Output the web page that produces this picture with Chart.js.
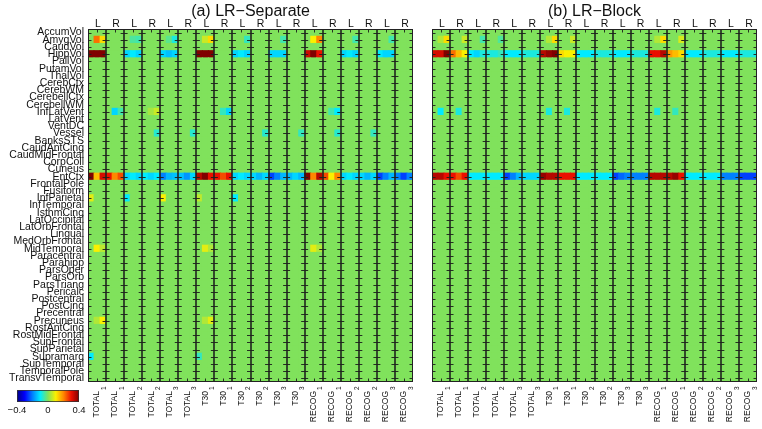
<!DOCTYPE html>
<html><head><meta charset="utf-8">
<script src="https://cdn.jsdelivr.net/npm/chart.js@4/dist/chart.umd.min.js"></script>
<style>
html,body{margin:0;padding:0;background:#fff;}
#wrap{position:relative;width:762px;height:429px;overflow:hidden;}
canvas{position:absolute;left:0;top:0;}
</style></head><body>
<div id="wrap"><canvas id="ca" width="762" height="429"></canvas><canvas id="cb" width="762" height="429"></canvas></div>
<script>
// ---------------- data ----------------
const regions = ['AccumVol','AmygVol','CaudVol','HippVol','PallVol','PutamVol','ThalVol','CerebCtx','CerebWM','CerebellCtx','CerebellWM','InfLatVent','LatVent','VentDC','Vessel','BanksSTS','CaudAntCing','CaudMidFrontal','CorpColl','Cuneus','EntCtx','FrontalPole','Fusiform','InfParietal','InfTemporal','IsthmCing','LatOccipital','LatOrbFrontal','Lingual','MedOrbFrontal','MidTemporal','Paracentral','Parahipp','ParsOper','ParsOrb','ParsTriang','Pericalc','Postcentral','PostCing','Precentral','Precuneus','RostAntCing','RostMidFrontal','SupFrontal','SupParietal','Supramarg','SupTemporal','TemporalPole','TransvTemporal'];
const sideLabels = ['L','R','L','R','L','R','L','R','L','R','L','R','L','R','L','R','L','R'];
const scoreLabels = ['TOTAL','TOTAL','TOTAL','TOTAL','TOTAL','TOTAL','T30','T30','T30','T30','T30','T30','RECOG','RECOG','RECOG','RECOG','RECOG','RECOG'];
const scoreIndex = ['1','1','2','2','3','3','1','1','2','2','3','3','1','1','2','2','3','3'];
const panelTitles = ['(a) LR\u2212Separate','(b) LR\u2212Block'];
const colorbarTicks = [-0.4, 0, 0.4];
const SUB = 3; // sub-columns per column
// non-zero cells: [region, column (1-18), values of the sub-columns]
const separateCells = [
  ['AmygVol',1,[0,0.22,0.12]],['AmygVol',3,[0,-0.04,-0.05]],['AmygVol',5,[0,-0.03,-0.08]],['AmygVol',7,[0,0.06,0.12]],['AmygVol',9,[0,0,-0.06]],['AmygVol',11,[0,0,-0.05]],['AmygVol',13,[0,0.1,0.2]],['AmygVol',15,[0,0,-0.05]],['AmygVol',17,[0,0,-0.05]],
  ['HippVol',1,[0.4,0.4,0.4]],['HippVol',3,[-0.12,-0.1,-0.12]],['HippVol',5,[-0.12,-0.14,-0.12]],['HippVol',7,[0.4,0.4,0.4]],['HippVol',9,[-0.12,-0.1,-0.12]],['HippVol',11,[-0.12,-0.12,-0.12]],['HippVol',13,[0.33,0.4,0.3]],['HippVol',15,[-0.12,-0.1,-0.12]],['HippVol',17,[-0.1,-0.12,-0.12]],
  ['InfLatVent',2,[0,-0.12,-0.05]],['InfLatVent',4,[0,0.03,0.06]],['InfLatVent',8,[0,-0.06,-0.12]],['InfLatVent',14,[0,-0.05,-0.1]],
  ['Vessel',4,[0,0,-0.07]],['Vessel',6,[0,0,-0.07]],['Vessel',10,[0,0,-0.07]],['Vessel',12,[0,0,-0.06]],['Vessel',14,[0,0,-0.07]],['Vessel',16,[0,0,-0.06]],
  ['EntCtx',1,[0.4,0.15,0.32]],['EntCtx',2,[0.3,0.2,0.25]],['EntCtx',3,[-0.12,-0.1,-0.12]],['EntCtx',4,[-0.1,-0.12,-0.1]],['EntCtx',5,[-0.2,-0.15,-0.14]],['EntCtx',6,[-0.14,-0.18,-0.12]],
  ['EntCtx',7,[0.35,0.4,0.3]],['EntCtx',8,[0.3,0.25,0.3]],['EntCtx',9,[-0.12,-0.1,-0.12]],['EntCtx',10,[-0.12,-0.15,-0.12]],['EntCtx',11,[-0.25,-0.2,-0.15]],['EntCtx',12,[-0.15,-0.12,-0.15]],
  ['EntCtx',13,[0.4,0.2,0.35]],['EntCtx',14,[0.25,0.1,0.2]],['EntCtx',15,[-0.12,-0.1,-0.12]],['EntCtx',16,[-0.12,-0.15,-0.12]],['EntCtx',17,[-0.25,-0.2,-0.15]],['EntCtx',18,[-0.2,-0.25,-0.2]],
  ['InfParietal',1,[0.08,0,0]],['InfParietal',3,[-0.1,0,0]],['InfParietal',5,[0.1,0,0]],['InfParietal',7,[0.05,0,0]],['InfParietal',9,[-0.1,0,0]],
  ['MidTemporal',1,[0,0.1,0.05]],['MidTemporal',7,[0,0.08,0.04]],['MidTemporal',13,[0,0.08,0.04]],
  ['Precuneus',1,[0,0.04,0.1]],['Precuneus',7,[0,0.04,0.08]],
  ['Supramarg',1,[-0.1,0,0]],['Supramarg',7,[-0.06,0,0]]
];
const blockCells = [
  ['AmygVol',1,[0,0.04,0.12]],['AmygVol',2,[0,0,0.06]],['AmygVol',3,[0,0,-0.05]],['AmygVol',4,[0,0,-0.04]],['AmygVol',7,[0,0.04,0.12]],['AmygVol',8,[0,0,0.06]],['AmygVol',13,[0,0.04,0.12]],['AmygVol',14,[0,0,0.07]],
  ['HippVol',1,[0.32,0.32,0.4]],['HippVol',2,[0.22,0.15,0.1]],['HippVol',3,[-0.1,-0.12,-0.08]],['HippVol',4,[-0.08,-0.08,-0.06]],['HippVol',5,[-0.1,-0.1,-0.1]],['HippVol',6,[-0.08,-0.08,-0.08]],
  ['HippVol',7,[0.35,0.38,0.4]],['HippVol',8,[0.12,0.1,0.1]],['HippVol',9,[-0.1,-0.1,-0.1]],['HippVol',10,[-0.08,-0.08,-0.08]],['HippVol',11,[-0.1,-0.1,-0.1]],['HippVol',12,[-0.08,-0.08,-0.08]],
  ['HippVol',13,[0.3,0.3,0.35]],['HippVol',14,[0.18,0.15,0.12]],['HippVol',15,[-0.1,-0.1,-0.1]],['HippVol',16,[-0.08,-0.08,-0.08]],['HippVol',17,[-0.1,-0.1,-0.1]],['HippVol',18,[-0.08,-0.08,-0.08]],
  ['InfLatVent',1,[0,-0.1,0]],['InfLatVent',2,[0,-0.08,0]],['InfLatVent',7,[0,-0.08,0]],['InfLatVent',8,[0,-0.08,0]],['InfLatVent',13,[0,-0.08,0]],['InfLatVent',14,[0,-0.06,0]],
  ['EntCtx',1,[0.35,0.35,0.3]],['EntCtx',2,[0.3,0.25,0.3]],['EntCtx',3,[-0.1,-0.1,-0.1]],['EntCtx',4,[-0.1,-0.1,-0.1]],['EntCtx',5,[-0.25,-0.2,-0.15]],['EntCtx',6,[-0.12,-0.12,-0.12]],
  ['EntCtx',7,[0.38,0.35,0.35]],['EntCtx',8,[0.3,0.3,0.3]],['EntCtx',9,[-0.1,-0.1,-0.1]],['EntCtx',10,[-0.1,-0.1,-0.1]],['EntCtx',11,[-0.25,-0.22,-0.2]],['EntCtx',12,[-0.2,-0.2,-0.2]],
  ['EntCtx',13,[0.35,0.35,0.35]],['EntCtx',14,[0.35,0.38,0.3]],['EntCtx',15,[-0.1,-0.1,-0.1]],['EntCtx',16,[-0.1,-0.1,-0.1]],['EntCtx',17,[-0.2,-0.2,-0.2]],['EntCtx',18,[-0.25,-0.25,-0.25]]
];

// ---------------- colour map ----------------
const cmapStops = [
  [-0.4,[0,0,131]],[-0.3,[0,0,255]],[-0.2,[0,128,255]],[-0.1,[0,235,255]],
  [0,[128,226,92]],[0.1,[250,240,0]],[0.2,[255,135,0]],[0.3,[235,15,0]],[0.4,[128,0,0]]
];
function colorOf(v){
  v = Math.max(-0.4, Math.min(0.4, v));
  for (let i=1;i<cmapStops.length;i++){
    const [v1,c1] = cmapStops[i];
    if (v <= v1 + 1e-9){
      const [v0,c0] = cmapStops[i-1];
      const t = (v - v0)/(v1 - v0);
      const c = c0.map((a,j)=>Math.round(a + (c1[j]-a)*t));
      return `rgb(${c[0]},${c[1]},${c[2]})`;
    }
  }
  return 'rgb(128,0,0)';
}

function buildPoints(cells){
  const nCols = sideLabels.length*SUB;
  const grid = regions.map(()=>new Array(nCols).fill(0));
  cells.forEach(([name,col,vals])=>{
    const r = regions.indexOf(name);
    vals.forEach((v,s)=>{ grid[r][(col-1)*SUB+s] = v; });
  });
  const pts = [];
  regions.forEach((name,r)=>{
    for (let k=0;k<nCols;k++) pts.push({y:name, x:[k,k+1], v:grid[r][k]});
  });
  return pts;
}

const FONT = "'Liberation Sans', Arial, sans-serif";
const LINE = 'rgba(28,34,28,0.92)';

function overlayPlugin(panel){
  return {
    id:'overlay'+panel,
    afterDatasetsDraw(chart){
      const {ctx, chartArea:a, scales:{x,y}} = chart;
      const nCol = sideLabels.length;
      ctx.save();
      ctx.strokeStyle = LINE;
      ctx.lineWidth = 1.7;
      ctx.beginPath();
      for (let c=1;c<nCol;c++){
        const px = Math.round(x.getPixelForValue(c*SUB));
        ctx.moveTo(px, a.top); ctx.lineTo(px, a.bottom);
      }
      ctx.stroke();
      ctx.lineWidth = 1;
      ctx.beginPath();
      regions.forEach((n,r)=>{
        const py = Math.round(y.getPixelForValue(r))+0.5;
        for (let c=0;c<=nCol;c++){
          const px = x.getPixelForValue(c*SUB);
          ctx.moveTo(Math.max(px-3.5,a.left), py); ctx.lineTo(Math.min(px+3.5,a.right), py);
        }
      });
      // small ticks at column centres on top and bottom edges
      for (let c=0;c<nCol;c++){
        const px = Math.round(x.getPixelForValue(c*SUB+SUB/2))+0.5;
        ctx.moveTo(px, a.top); ctx.lineTo(px, a.top+3.5);
        ctx.moveTo(px, a.bottom); ctx.lineTo(px, a.bottom-3.5);
      }
      ctx.stroke();
      ctx.strokeStyle = '#222';
      ctx.strokeRect(Math.round(a.left)+0.5, Math.round(a.top)+0.5, Math.round(a.width)-1, Math.round(a.height)-1);
      ctx.restore();
    },
    afterDraw(chart){
      const {ctx, chartArea:a, scales:{x}} = chart;
      ctx.save();
      ctx.fillStyle = '#111';
      ctx.font = '16px '+FONT;
      ctx.textAlign = 'center'; ctx.textBaseline = 'alphabetic';
      ctx.fillText(panelTitles[panel], (a.left+a.right)/2, 16);
      ctx.font = '10.5px '+FONT;
      sideLabels.forEach((t,c)=>{
        ctx.fillText(t, x.getPixelForValue(c*SUB+SUB/2)+1, 26.5);
      });
      scoreLabels.forEach((t,c)=>{
        const px = x.getPixelForValue(c*SUB+SUB/2);
        ctx.save();
        ctx.translate(px, a.bottom+9);
        ctx.rotate(-Math.PI/2);
        ctx.font = '8.5px '+FONT;
        ctx.textAlign = 'right'; ctx.textBaseline = 'middle';
        ctx.fillText(t, 0, 0);
        ctx.font = '6.5px '+FONT;
        ctx.textAlign = 'left';
        ctx.fillText(scoreIndex[c], 1, 7);
        ctx.restore();
      });
      if (panel === 0){
        const x0 = 17, x1 = 79, y0 = 390, y1 = 402;
        const g = ctx.createLinearGradient(x0,0,x1,0);
        cmapStops.forEach(([v,c])=>g.addColorStop((v+0.4)/0.8, `rgb(${c[0]},${c[1]},${c[2]})`));
        ctx.fillStyle = g;
        ctx.fillRect(x0,y0,x1-x0,y1-y0);
        ctx.strokeStyle = '#333'; ctx.lineWidth = 0.8;
        ctx.strokeRect(x0+0.5,y0+0.5,x1-x0-1,y1-y0-1);
        ctx.fillStyle = '#111';
        ctx.font = '9.5px '+FONT; ctx.textAlign='center'; ctx.textBaseline='middle';
        colorbarTicks.forEach(v=>{
          const px = x0 + (v+0.4)/0.8*(x1-x0);
          ctx.fillText(v<0 ? '\u2212'+Math.abs(v) : String(v), px, 410);
        });
      }
      ctx.restore();
    }
  };
}

function makePanel(id, cells, panel, padL, padR, showY){
  new Chart(document.getElementById(id), {
    type:'bar',
    data:{ labels: regions, datasets:[{
      data: buildPoints(cells),
      backgroundColor: c => colorOf(c.raw ? c.raw.v : 0),
      borderWidth: 0, barPercentage:1, categoryPercentage:1, inflateAmount:0.45, grouped:false
    }]},
    options:{
      indexAxis:'y', responsive:false, animation:false, devicePixelRatio:1,
      layout:{padding:{left:padL,right:padR,top:29,bottom:47}},
      plugins:{legend:{display:false}, tooltip:{enabled:false}},
      scales:{
        x:{type:'linear', min:0, max:sideLabels.length*SUB, display:false},
        y:{type:'category', display:showY, grid:{display:false, drawTicks:false}, border:{display:false},
           ticks:{font:{family:FONT, size:10.5}, color:'#111', padding:4, autoSkip:false},
           afterFit: s => { if (showY) s.width = 88; }}
      }
    },
    plugins:[overlayPlugin(panel)]
  });
}
makePanel('ca', separateCells, 0, 0, 762-413, true);
makePanel('cb', blockCells, 1, 432, 762-757, false);
</script></body></html>
